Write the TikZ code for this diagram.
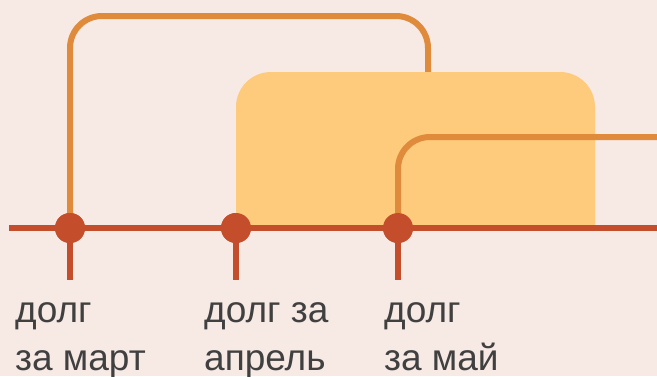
\documentclass[tikz,border=0pt]{standalone}
\usepackage{fontspec}
\setmainfont{Liberation Sans}
\definecolor{bgpink}{HTML}{F7E9E4}
\definecolor{axisred}{HTML}{C44D2C}
\definecolor{debtorange}{HTML}{E08A3C}
\definecolor{restyellow}{HTML}{FECA7B}
\definecolor{labelgray}{HTML}{404040}

\tikzset{
  debtdot/.style={circle,fill=axisred,minimum size=30pt,inner sep=0pt},
  debtlabel/.style={anchor=base west,inner sep=0pt,align=left,text=labelgray,
    font=\fontsize{37}{48}\selectfont},
  carry/.style={line width=6pt,draw=debtorange,rounded corners=32pt}
}

\begin{document}
\begin{tikzpicture}[x=1pt,y=-1pt]
            \fill[bgpink] (0,0) rectangle (657,376);
            \useasboundingbox (0,0) rectangle (657,376);
            \draw (70,228) node[debtdot] (M) {};
            \draw (236,228) node[debtdot] (A) {};
            \draw (398,228) node[debtdot] (Y) {};
            \coordinate (L) at (9,228);
            \coordinate (R) at (657,228);
            \coordinate (Y2) at (657,137);
            % debt for March carried over
            \draw[carry] (M) |- (428,16) -- (428,80);
            \fill[restyellow] (236,228) [rounded corners=35pt] -- (236,72)
                -- (595,72) [sharp corners] -- (595,228) -- cycle;
            \draw[carry] (Y) |- (Y2);
            \draw[axisred,line width=6pt] (L)--(R);
            \foreach \d in {M,A,Y}
              \draw[axisred,line width=6pt] (\d.center)--++(0,52);
            \draw (70,228) node[debtdot] {};
            \draw (236,228) node[debtdot] {};
            \draw (398,228) node[debtdot] {};
            \node[debtlabel] (lm) at (15,370) {долг\\за март};
            \node[debtlabel] (la) at (204,370) {долг за\\апрель};
            \node[debtlabel] (ly) at (384,370) {долг\\за май};
        \end{tikzpicture}
\end{document}
